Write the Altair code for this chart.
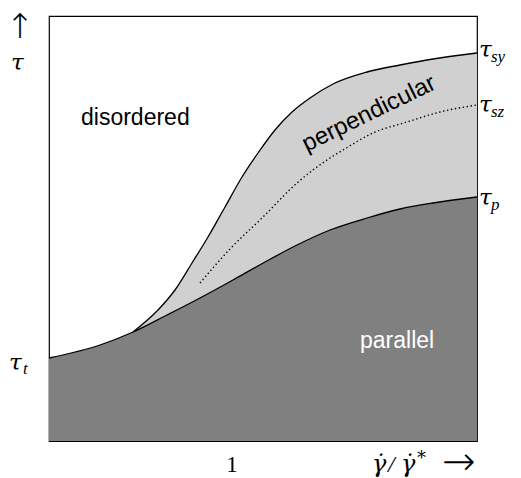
import altair as alt
import pandas as pd

# Boundary between "parallel" and the rest (tau_p curve)
bottom_x = [0, 51, 84, 118, 151, 184, 216, 248, 281, 318, 351, 384, 428]
bottom_y = [83, 96, 109, 126, 143, 161, 179, 196, 211, 223, 232, 238, 244]

# Upper boundary of "perpendicular" (tau_sy curve)
top_x = [84, 109, 126, 143, 159, 176, 193, 209, 226, 243, 261, 284, 318, 351, 384, 428]
top_y = [109, 131, 151, 178, 204, 234, 264, 288, 311, 329, 343, 357, 369, 376, 382, 388]

# Dotted tau_sz curve
dot_x = [151, 181, 214, 248, 281, 294, 324, 358, 391, 428]
dot_y = [158, 192, 224, 258, 283, 291, 308, 319, 329, 336]

# Region labels
region_text = ["disordered", "parallel"]
region_x = [32, 311]
region_y = [316, 93]
region_color = ["black", "white"]

perp_text = ["perpendicular"]
perp_x = [323]
perp_y = [321]

# Math labels (tau symbols)
tau_text = ["τ", "τ", "τ", "τ", "τ"]
tau_x = [-38, -40, 430, 430, 430]
tau_y = [371, 71, 384, 329, 236]
sub_text = ["t", "sy", "sz", "p"]
sub_x = [-26, 442, 442, 442]
sub_y = [67, 379, 324, 231]

# x-axis label pieces: γ̇ / γ̇ *
xl_text = ["γ̇", "/", "γ̇", "*"]
xl_x = [323, 339, 352, 368]
xl_y = [-31, -31, -31, -23]
xl_size = [24, 24, 24, 18]
xl_font = ["DejaVu Serif", "Liberation Serif", "DejaVu Serif", "DejaVu Serif"]

# arrows
arrow_text = ["↑", "→"]
arrow_x = [-29, 410]
arrow_y = [413, -22]
arrow_size = [34, 40]

tick_text = ["1"]
tick_x = [183]
tick_y = [-31]

X_DOM = [0, 428]
Y_DOM = [0, 425]

xs = alt.Scale(domain=X_DOM, nice=False, zero=False)
ys = alt.Scale(domain=Y_DOM, nice=False, zero=False)

bottom_df = pd.DataFrame({"x": bottom_x, "y": bottom_y})
top_df = pd.DataFrame({"x": top_x, "y": top_y})
dot_df = pd.DataFrame({"x": dot_x, "y": dot_y})

X = alt.X("x:Q", scale=xs, axis=None)
Y = alt.Y("y:Q", scale=ys, axis=None)

light = alt.Chart(top_df).mark_area(color="#d0d0d0", interpolate="monotone").encode(x=X, y=Y)
dark = alt.Chart(bottom_df).mark_area(color="#808080", interpolate="monotone").encode(x=X, y=Y)
bottom_line = alt.Chart(bottom_df).mark_line(color="black", strokeWidth=1.3, interpolate="monotone").encode(x=X, y=Y)
top_line = alt.Chart(top_df).mark_line(color="black", strokeWidth=1.3, interpolate="monotone").encode(x=X, y=Y)
dot_line = alt.Chart(dot_df).mark_line(
    color="black", strokeWidth=1.4, strokeDash=[1.4, 2.6], interpolate="monotone"
).encode(x=X, y=Y)

region_df = pd.DataFrame({"x": region_x, "y": region_y, "t": region_text, "c": region_color})
regions = alt.Chart(region_df).mark_text(
    font="Liberation Sans", fontSize=23, align="left", baseline="alphabetic"
).encode(x=X, y=Y, text="t:N", color=alt.Color("c:N", scale=None))

perp_df = pd.DataFrame({"x": perp_x, "y": perp_y, "t": perp_text})
perp = alt.Chart(perp_df).mark_text(
    font="Liberation Sans", fontSize=24, align="center", baseline="alphabetic", angle=334, color="black"
).encode(x=X, y=Y, text="t:N")

tau_df = pd.DataFrame({"x": tau_x, "y": tau_y, "t": tau_text})
taus = alt.Chart(tau_df).mark_text(
    font="DejaVu Serif", fontSize=23, fontStyle="italic", align="left", baseline="alphabetic", color="black"
).encode(x=X, y=Y, text="t:N")

sub_df = pd.DataFrame({"x": sub_x, "y": sub_y, "t": sub_text})
subs = alt.Chart(sub_df).mark_text(
    font="Liberation Serif", fontSize=17, fontStyle="italic", align="left", baseline="alphabetic", color="black"
).encode(x=X, y=Y, text="t:N")

arrow_df = pd.DataFrame({"x": arrow_x, "y": arrow_y, "t": arrow_text, "s": arrow_size})
arrows = alt.Chart(arrow_df).mark_text(
    font="DejaVu Sans", fontWeight=200, align="center", baseline="middle", color="black"
).encode(x=X, y=Y, text="t:N", size=alt.Size("s:Q", scale=None))

tick_df = pd.DataFrame({"x": tick_x, "y": tick_y, "t": tick_text})
ticks = alt.Chart(tick_df).mark_text(
    font="Liberation Serif", fontSize=23, align="center", baseline="alphabetic", color="black"
).encode(x=X, y=Y, text="t:N")

xl_layers = []
for i in range(len(xl_text)):
    d = pd.DataFrame({"x": [xl_x[i]], "y": [xl_y[i]], "t": [xl_text[i]]})
    xl_layers.append(
        alt.Chart(d).mark_text(
            font=xl_font[i], fontSize=xl_size[i], fontStyle="italic",
            align="left", baseline="alphabetic", color="black"
        ).encode(x=X, y=Y, text="t:N")
    )

chart = alt.layer(
    light, dark, bottom_line, top_line, dot_line, regions, perp, taus, subs, arrows, ticks, *xl_layers
).properties(
    width=428,
    height=425,
    autosize=alt.AutoSizeParams(type="none"),
    padding={"left": 41, "top": 8, "right": 36, "bottom": 37},
).configure_view(
    stroke="black", strokeWidth=1.2
)

chart.save("out.html", embed_options={"renderer": "svg", "actions": False})
